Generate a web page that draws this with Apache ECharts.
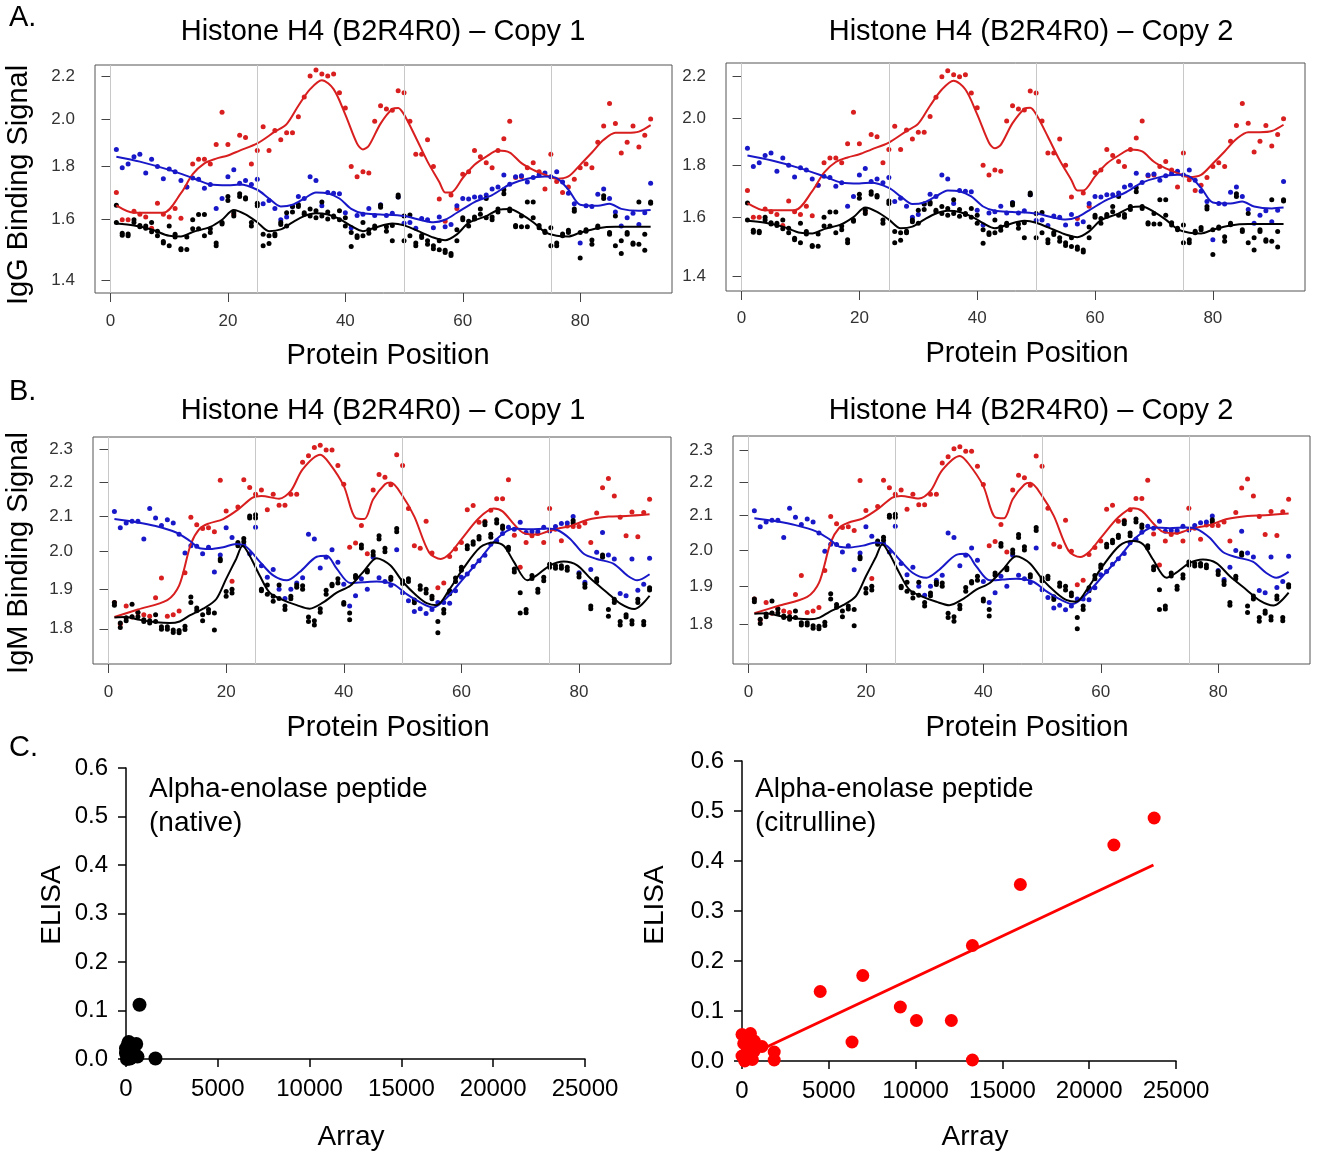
<!DOCTYPE html>
<html>
<head>
<meta charset="utf-8">
<script src="https://cdn.jsdelivr.net/npm/echarts@6/dist/echarts.min.js"></script>
<style>
  html, body { margin: 0; padding: 0; background: #fff; }
  #chart { width: 1318px; height: 1153px; }
</style>
</head>
<body>
<div id="chart"></div>
<script>
// peptide positions along histone H4
const positions = [1,2,3,4,5,6,7,8,9,10,11,12,13,14,15,16,17,18,19,20,21,22,23,24,25,26,27,28,29,30,
  31,32,33,34,35,36,37,38,39,40,41,42,43,44,45,46,47,48,49,50,51,52,53,54,55,56,57,58,59,60,
  61,62,63,64,65,66,67,68,69,70,71,72,73,74,75,76,77,78,79,80,81,82,83,84,85,86,87,88,89,90,91,92];
const dividers = [0, 25, 50, 75];

// ---- IgG (panel A) ----
const iggRed = [1.70,1.60,1.60,1.63,1.62,1.61,1.57,1.66,1.62,1.61,1.64,1.605,1.72,1.81,1.83,1.83,1.81,1.89,2.03,1.89,
  1.62,1.93,1.92,1.81,1.865,1.966,1.865,1.95,1.91,1.94,1.94,2.01,2.10,2.20,2.23,2.21,2.20,2.21,2.12,2.05,
  1.80,1.76,1.78,1.775,1.99,2.06,2.045,2.04,2.13,2.12,1.99,1.85,1.85,1.91,1.80,1.675,1.595,1.69,1.64,1.77,
  1.78,1.865,1.84,1.815,1.795,1.865,1.915,1.99,1.757,1.76,1.795,1.815,1.78,1.713,1.85,1.742,1.70,1.72,1.75,1.795,
  1.81,1.795,1.90,1.97,2.07,1.98,1.855,1.90,1.97,1.88,1.93,2.00];
const iggBlue = [1.87,1.795,1.81,1.84,1.85,1.775,1.83,1.80,1.752,1.79,1.78,1.745,1.72,1.755,1.75,1.716,1.73,1.64,1.677,1.76,
  1.787,1.735,1.745,1.73,1.75,1.658,1.67,1.64,1.60,1.61,1.648,1.685,1.677,1.76,1.745,1.65,1.70,1.697,1.695,1.625,
  1.572,1.615,1.62,1.64,1.615,1.654,1.615,1.623,1.683,1.588,1.59,1.57,1.604,1.60,1.572,1.61,1.575,1.583,1.65,1.677,
  1.675,1.683,1.683,1.69,1.713,1.72,1.767,1.731,1.76,1.764,1.74,1.757,1.767,1.775,1.76,1.78,1.74,1.697,1.658,1.52,
  1.65,1.648,1.693,1.713,1.677,1.628,1.578,1.607,1.623,1.583,1.625,1.735];
const iggBlack1 = [1.652,1.553,1.544,1.60,1.58,1.578,1.558,1.544,1.525,1.51,1.549,1.50,1.498,1.60,1.619,1.619,1.568,1.51,1.59,1.685,
  1.613,1.695,1.68,1.59,1.66,1.51,1.518,1.544,1.583,1.578,1.628,1.648,1.625,1.639,1.607,1.664,1.603,1.613,1.60,1.578,
  1.508,1.538,1.59,1.553,1.578,1.652,1.56,1.527,1.69,1.527,1.617,1.52,1.538,1.515,1.50,1.497,1.488,1.478,1.527,1.607,
  1.578,1.603,1.639,1.677,1.60,1.639,1.71,1.639,1.575,1.575,1.575,1.664,1.572,1.555,1.51,1.51,1.544,1.563,1.639,1.47,
  1.56,1.53,1.573,1.687,1.549,1.51,1.485,1.555,1.515,1.664,1.495,1.664];
const iggBlack2 = [1.59,1.546,1.55,1.59,1.575,1.57,1.59,1.56,1.52,1.578,1.54,1.497,1.54,1.568,1.568,1.544,1.555,1.52,1.585,1.67,
  1.625,1.685,1.675,1.578,1.65,1.549,1.544,1.55,1.59,1.625,1.648,1.655,1.62,1.613,1.632,1.613,1.628,1.61,1.632,1.607,
  1.555,1.544,1.544,1.565,1.57,1.645,1.575,1.58,1.683,1.613,1.544,1.51,1.545,1.527,1.51,1.527,1.495,1.485,1.565,1.60,
  1.595,1.61,1.62,1.607,1.61,1.628,1.695,1.632,1.58,1.613,1.664,1.607,1.58,1.56,1.572,1.52,1.55,1.555,1.63,1.555,
  1.565,1.515,1.578,1.677,1.555,1.613,1.527,1.549,1.52,1.515,1.549,1.66];
const iggRedFitX = [1,4,9,12,14,16,18,20,22,25,28,30,32,34,36,38,40,42,43,44,46,48,49,50,52,54,56,57,58,60,62,64,66,68,70,72,74,76,78,80,82,84,86,88,90,92];
const iggRedFitY = [1.652,1.625,1.625,1.697,1.77,1.813,1.832,1.845,1.865,1.895,1.945,1.978,2.06,2.137,2.18,2.137,2.02,1.894,1.87,1.885,1.98,2.045,2.05,2.02,1.92,1.82,1.74,1.70,1.70,1.755,1.807,1.84,1.865,1.857,1.814,1.787,1.768,1.752,1.761,1.807,1.857,1.91,1.94,1.94,1.945,1.973];
const iggBlueFitX = [1,5,10,14,17,20,22,25,27,29,31,33,35,37,39,41,43,46,50,53,55,57,59,62,65,68,71,74,76,78,80,83,85,87,90,92];
const iggBlueFitY = [1.84,1.82,1.787,1.755,1.73,1.727,1.73,1.71,1.677,1.648,1.654,1.677,1.70,1.697,1.677,1.639,1.623,1.619,1.613,1.598,1.591,1.60,1.625,1.664,1.69,1.73,1.752,1.761,1.755,1.71,1.654,1.65,1.658,1.639,1.632,1.635];
const iggBlackFitX = [1,4,7,10,12,14,17,19,21,23,25,27,29,31,33,35,37,39,41,43,45,48,50,53,55,57,59,61,64,66,68,70,72,74,76,78,80,83,86,92];
const iggBlackFitY = [1.587,1.58,1.566,1.544,1.542,1.557,1.575,1.60,1.635,1.619,1.591,1.56,1.566,1.591,1.613,1.623,1.619,1.603,1.578,1.56,1.572,1.587,1.58,1.555,1.538,1.529,1.549,1.589,1.613,1.635,1.639,1.619,1.591,1.557,1.544,1.542,1.555,1.57,1.575,1.575];

// ---- IgM (panel B) ----
const igmRed = [1.866,1.812,1.857,1.829,1.84,1.835,1.831,1.878,1.929,1.831,1.835,1.844,1.943,2.096,2.075,2.064,2.066,2.055,2.205,2.114,
  1.921,2.126,2.206,2.183,2.163,2.176,2.118,2.163,2.131,2.131,2.163,2.163,2.26,2.28,2.306,2.313,2.298,2.298,2.25,2.193,
  2.012,2.024,2.073,1.994,2.176,2.222,2.214,2.191,2.283,2.25,2.121,2.016,2.009,2.085,1.996,1.904,1.916,1.987,2.007,2.025,
  2.118,2.13,2.082,2.085,2.116,2.15,2.15,2.206,2.045,1.958,2.025,2.044,2.05,2.025,2.121,2.062,2.03,2.071,2.07,2.07,
  2.08,2.025,2.108,2.182,2.21,2.158,2.096,2.044,2.111,2.041,2.11,2.148];
const igmBlue = [2.113,2.066,2.08,2.085,2.085,2.035,2.121,2.094,2.073,2.089,2.08,2.048,1.996,2.016,2.015,1.994,2.012,1.945,1.991,2.066,
  2.039,2.021,2.018,1.994,2.068,1.962,1.931,1.952,1.90,1.876,1.90,1.916,1.93,2.048,2.035,1.956,1.985,2.005,1.971,1.913,
  1.857,1.883,1.927,1.90,1.985,1.93,1.92,1.91,2.005,1.891,1.87,1.843,1.85,1.838,1.848,1.866,1.866,1.864,1.896,1.931,
  1.94,1.96,1.975,1.99,2.02,2.03,2.05,2.068,2.062,2.082,2.053,2.055,2.055,2.068,2.057,2.07,2.078,2.08,2.098,1.943,
  1.918,1.952,1.998,2.053,1.991,1.98,1.889,1.883,1.98,1.897,1.913,1.982];
const igmBlack1 = [1.866,1.803,1.827,1.861,1.841,1.818,1.82,1.835,1.799,1.799,1.791,1.79,1.798,1.88,1.852,1.82,1.848,1.839,1.98,1.894,
  1.90,2.025,2.036,2.094,2.103,1.90,1.911,1.869,1.911,1.857,1.882,1.911,1.909,1.829,1.809,1.841,1.897,1.913,1.927,1.866,
  1.839,1.936,2.018,1.95,2.0,2.044,2.009,1.931,2.064,1.922,1.927,1.872,1.909,1.90,1.882,1.818,1.848,1.896,1.929,1.958,
  2.016,2.027,2.042,2.082,2.048,2.089,2.071,2.012,1.953,1.891,1.848,1.936,1.90,1.931,1.966,1.962,1.962,1.958,2.087,1.94,
  1.913,1.857,1.927,1.991,1.848,1.874,1.809,1.835,1.82,1.874,1.818,1.904];
const igmBlack2 = [1.859,1.814,1.82,1.83,1.83,1.822,1.814,1.818,1.805,1.805,1.797,1.796,1.806,1.866,1.845,1.835,1.84,1.797,1.975,1.882,
  1.89,2.016,2.027,2.10,2.094,1.896,1.887,1.882,1.876,1.848,1.875,1.905,1.90,1.818,1.82,1.85,1.887,1.909,1.916,1.861,
  1.822,1.93,2.01,1.945,1.991,2.035,2.0,1.925,2.055,1.915,1.92,1.865,1.90,1.89,1.875,1.79,1.839,1.888,1.92,1.95,
  2.008,2.02,2.035,2.075,2.04,2.08,2.064,2.005,1.945,1.839,1.84,1.928,1.892,1.922,1.958,1.955,1.955,1.95,2.08,1.932,
  1.905,1.85,1.92,1.985,1.831,1.866,1.818,1.829,1.812,1.866,1.81,1.898];
const igmRedFitX = [1,5,10,12,14,15.5,17,19.5,22,24.5,26,29,31,33,36,37.5,40,42,43.5,45,47,48,50,52,54.5,56.5,58,60,63,65.5,67,69,70.5,73,74.5,76.5,78.5,81.5,85,88,92];
const igmRedFitY = [1.829,1.848,1.872,1.909,2.021,2.064,2.078,2.091,2.118,2.153,2.158,2.15,2.173,2.238,2.283,2.258,2.188,2.094,2.091,2.148,2.193,2.198,2.158,2.098,1.998,1.98,1.994,2.034,2.094,2.121,2.113,2.075,2.052,2.047,2.055,2.064,2.071,2.089,2.098,2.10,2.105];
const igmBlueFitX = [1,4.7,8,11.5,13.8,15.5,17.2,19.5,21.7,23.5,25.7,28,30.3,32.5,35.4,37.1,38.8,41.1,43.3,45.6,48.4,50.7,53,55.2,57.5,60.3,63.2,66,68.9,71.7,74.6,76.3,78.5,80.8,83,85.9,88.2,89.9,92];
const igmBlueFitY = [2.091,2.082,2.071,2.053,2.03,2.009,2.007,2.012,2.021,2.012,1.973,1.936,1.923,1.945,1.986,1.989,1.954,1.916,1.918,1.92,1.913,1.887,1.866,1.853,1.878,1.927,1.98,2.035,2.064,2.062,2.064,2.06,2.035,1.994,1.98,1.967,1.936,1.923,1.939];
const igmBlackFitX = [1,3,5.3,8.1,10.4,12.1,13.8,16.1,18.3,20,21.7,22.8,24,25.7,27.4,29.7,32,34.2,36.5,38.8,41.1,43.3,45.6,47.9,50.1,52.4,54.1,55.8,58,60.3,63.2,65.5,67.2,68.9,71.2,72.8,75.1,77.4,79.7,82,84.8,87.1,89.4,92];
const igmBlackFitY = [1.828,1.829,1.822,1.816,1.814,1.818,1.833,1.85,1.874,1.927,1.98,2.016,1.989,1.936,1.891,1.872,1.859,1.85,1.866,1.891,1.909,1.945,1.982,1.963,1.918,1.883,1.864,1.859,1.90,1.954,2.012,2.025,2.016,1.973,1.923,1.936,1.963,1.973,1.963,1.927,1.891,1.862,1.849,1.883];

const iggTicks = [1.4, 1.6, 1.8, 2.0, 2.2];
const igmTicks = [1.8, 1.9, 2.0, 2.1, 2.2, 2.3];
const positionTicks = [0, 20, 40, 60, 80];

// ---- ELISA vs array (panel C) ----
const nativeArray = [0, 110, 557, 223, 624, 334, 0, 50, 400, 735, 1604, 150];
const nativeElisa = [0.012, 0.031, 0.031, 0.001, 0.005, 0.012, 0.022, 0.0, 0.02, 0.112, 0.001, 0.035];
const citArray = [4505, 6338, 6957, 9121, 10049, 12058, 13273, 13273, 16034, 21422, 23741,
  0, 486, 375, 707, 1148, 1855, 1855, 0, 155, 596, 265, 707, 100];
const citElisa = [0.139, 0.038, 0.171, 0.108, 0.081, 0.081, 0.231, 0.002, 0.353, 0.432, 0.486,
  0.053, 0.055, 0.03, 0.02, 0.029, 0.018, 0.002, 0.01, 0.0, 0.003, 0.017, 0.04, 0.035];
const citFitArray = [500, 23700];
const citFitElisa = [0.013, 0.392];

const FONT = '"Liberation Sans", Arial, sans-serif';
const RED = '#d81e1e', BLUE = '#1818c8', BLACK = '#000000';

function pts(vals) { return positions.map((x, i) => [x, Math.log(vals[i])]); }
function fit(xs, ys) { return xs.map((x, i) => [x, Math.log(ys[i])]); }
function pairs(xs, ys) { return xs.map((x, i) => [x, ys[i]]); }

function profileX(g, margin) {
  return {
    gridIndex: g, type: 'value', min: -2.64, max: 95.64,
    axisLine: { show: false }, splitLine: { show: false },
    axisTick: { show: true, length: 9, customValues: positionTicks, lineStyle: { color: '#444' } },
    axisLabel: { customValues: positionTicks, margin: margin, fontSize: 17, color: '#333', fontFamily: FONT }
  };
}
function profileY(g, lo, hi, ticks) {
  const tv = ticks.map(Math.log);
  return {
    gridIndex: g, type: 'value', min: Math.log(lo), max: Math.log(hi),
    axisLine: { show: false }, splitLine: { show: false },
    axisTick: { show: true, length: 9, customValues: tv, lineStyle: { color: '#444' } },
    axisLabel: { customValues: tv, margin: 20, fontSize: 17, color: '#333', fontFamily: FONT,
      formatter: v => Math.exp(v).toFixed(1) }
  };
}
function profileSeries(g, red, blue, b1, b2, rfx, rfy, bfx, bfy, kfx, kfy) {
  const dot = (data, color) => ({ type: 'scatter', xAxisIndex: g, yAxisIndex: g, data: data,
    symbolSize: 5, itemStyle: { color: color, opacity: 1 }, z: 3, silent: true });
  const line = (data, color) => ({ type: 'line', xAxisIndex: g, yAxisIndex: g, data: data,
    smooth: 0.3, showSymbol: false, lineStyle: { color: color, width: 2 }, z: 4, silent: true });
  return [
    { type: 'line', xAxisIndex: g, yAxisIndex: g, data: [], z: 1,
      markLine: { silent: true, symbol: 'none', label: { show: false },
        lineStyle: { color: '#c8c8c8', type: 'solid', width: 1 },
        data: dividers.map(d => ({ xAxis: d })) } },
    dot(pts(red), RED), dot(pts(blue), BLUE), dot(pts(b1), BLACK), dot(pts(b2), BLACK),
    line(fit(rfx, rfy), RED), line(fit(bfx, bfy), BLUE), line(fit(kfx, kfy), BLACK)
  ];
}
function elisaX(g) {
  return {
    gridIndex: g, type: 'value', min: 0, max: 25000, interval: 5000,
    axisLine: { show: true, onZero: false, lineStyle: { color: '#000', width: 1.5 } },
    axisTick: { show: true, length: 8, lineStyle: { color: '#000', width: 1.5 } },
    splitLine: { show: false },
    axisLabel: { margin: 18, fontSize: 24, color: '#000', fontFamily: FONT, formatter: v => String(v) }
  };
}
function elisaY(g) {
  return {
    gridIndex: g, type: 'value', min: 0, max: 0.6, interval: 0.1,
    axisLine: { show: true, onZero: false, lineStyle: { color: '#000', width: 1.5 } },
    axisTick: { show: true, length: 8, lineStyle: { color: '#000', width: 1.5 } },
    splitLine: { show: false },
    axisLabel: { margin: 18, fontSize: 24, color: '#000', fontFamily: FONT, formatter: v => v.toFixed(1) }
  };
}
function txt(text, x, y, size, opts) {
  opts = opts || {};
  return { type: 'text', x: x, y: y, rotation: opts.rotate ? Math.PI / 2 : 0, silent: true,
    style: { text: text, font: size + 'px ' + FONT, fill: '#000',
      align: opts.align || 'center', verticalAlign: 'middle' } };
}

const frame = { show: true, borderColor: '#555', borderWidth: 1, backgroundColor: 'transparent' };
const chart = echarts.init(document.getElementById('chart'), null, { renderer: 'canvas' });

const option = {
  animation: false,
  backgroundColor: '#fff',
  grid: [
    Object.assign({ left: 95, top: 65, width: 577, height: 228 }, frame),
    Object.assign({ left: 726, top: 63, width: 579, height: 228 }, frame),
    Object.assign({ left: 93, top: 437, width: 578, height: 227 }, frame),
    Object.assign({ left: 733, top: 436, width: 577, height: 228 }, frame),
    { left: 126, top: 768, width: 459, height: 291 },
    { left: 742, top: 761, width: 434, height: 300 }
  ],
  xAxis: [profileX(0, 20), profileX(1, 19), profileX(2, 20), profileX(3, 20), elisaX(4), elisaX(5)],
  yAxis: [
    profileY(0, 1.3602, 2.2546, iggTicks),
    profileY(1, 1.3532, 2.2695, iggTicks),
    profileY(2, 1.7154, 2.339, igmTicks),
    profileY(3, 1.703, 2.348, igmTicks),
    elisaY(4), elisaY(5)
  ],
  series: [].concat(
    profileSeries(0, iggRed, iggBlue, iggBlack1, iggBlack2, iggRedFitX, iggRedFitY, iggBlueFitX, iggBlueFitY, iggBlackFitX, iggBlackFitY),
    profileSeries(1, iggRed, iggBlue, iggBlack1, iggBlack2, iggRedFitX, iggRedFitY, iggBlueFitX, iggBlueFitY, iggBlackFitX, iggBlackFitY),
    profileSeries(2, igmRed, igmBlue, igmBlack1, igmBlack2, igmRedFitX, igmRedFitY, igmBlueFitX, igmBlueFitY, igmBlackFitX, igmBlackFitY),
    profileSeries(3, igmRed, igmBlue, igmBlack1, igmBlack2, igmRedFitX, igmRedFitY, igmBlueFitX, igmBlueFitY, igmBlackFitX, igmBlackFitY),
    [
      { type: 'scatter', xAxisIndex: 4, yAxisIndex: 4, data: pairs(nativeArray, nativeElisa),
        symbolSize: 14, itemStyle: { color: '#000', opacity: 1 }, silent: true },
      { type: 'scatter', xAxisIndex: 5, yAxisIndex: 5, data: pairs(citArray, citElisa),
        symbolSize: 13, itemStyle: { color: '#ff0000', opacity: 1 }, silent: true },
      { type: 'line', xAxisIndex: 5, yAxisIndex: 5, data: pairs(citFitArray, citFitElisa),
        showSymbol: false, lineStyle: { color: '#ff0000', width: 3 }, silent: true }
    ]
  ),
  graphic: { elements: [
    txt('A.', 9, 18, 29, { align: 'left' }),
    txt('Histone H4 (B2R4R0) \u2013 Copy 1', 383, 32, 29),
    txt('Histone H4 (B2R4R0) \u2013 Copy 2', 1031, 32, 29),
    txt('IgG Binding Signal', 19, 185, 29, { rotate: true }),
    txt('Protein Position', 388, 356, 29),
    txt('Protein Position', 1027, 354, 29),
    txt('B.', 9, 392, 29, { align: 'left' }),
    txt('Histone H4 (B2R4R0) \u2013 Copy 1', 383, 411, 29),
    txt('Histone H4 (B2R4R0) \u2013 Copy 2', 1031, 411, 29),
    txt('IgM Binding Signal', 19, 553, 29, { rotate: true }),
    txt('Protein Position', 388, 728, 29),
    txt('Protein Position', 1027, 728, 29),
    txt('C.', 9, 748, 29, { align: 'left' }),
    txt('ELISA', 52, 905, 28, { rotate: true }),
    txt('ELISA', 655, 905, 28, { rotate: true }),
    txt('Array', 351, 1137, 28),
    txt('Array', 975, 1137, 28),
    txt('Alpha-enolase peptide', 149, 789, 28, { align: 'left' }),
    txt('(native)', 149, 823, 28, { align: 'left' }),
    txt('Alpha-enolase peptide', 755, 789, 28, { align: 'left' }),
    txt('(citrulline)', 755, 823, 28, { align: 'left' })
  ] }
};

chart.setOption(option);
</script>
</body>
</html>
